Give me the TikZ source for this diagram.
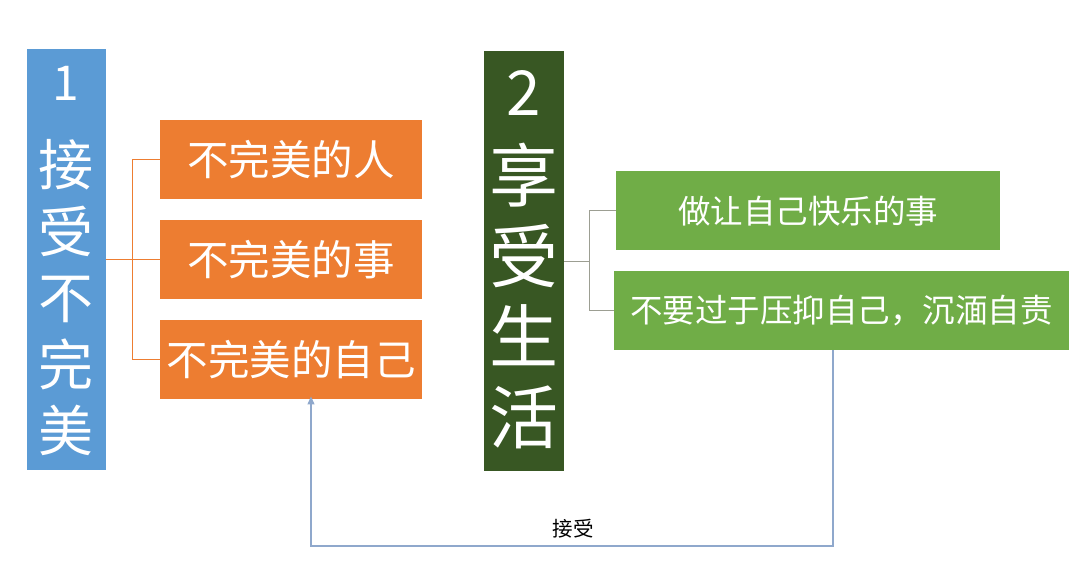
\documentclass[tikz,border=0pt]{standalone}
\usepackage{fontspec}
\setmainfont{Noto Sans CJK SC}
\usetikzlibrary{arrows.meta}
\definecolor{cblue}{HTML}{5B9BD5}
\definecolor{corange}{HTML}{ED7D31}
\definecolor{cdark}{HTML}{385723}
\definecolor{cgreen}{HTML}{70AD47}
\definecolor{cgray}{HTML}{9C9E92}
\definecolor{carrow}{HTML}{8FA8CC}
\tikzset{
  box/.style={rectangle, inner sep=0pt, anchor=north west, text=white},
  col/.style={text=white, align=center, inner sep=0pt},
  obox/.style={box, fill=corange, minimum width=262pt, minimum height=79pt, font=\fontsize{41.5}{48}\selectfont},
  gbox/.style={box, fill=cgreen, minimum height=79pt, font=\fontsize{32.5}{38}\selectfont},
  oline/.style={draw=corange, line width=1pt},
  gline/.style={draw=cgray, line width=1.1pt},
  aline/.style={draw=carrow, line width=1.1pt}
}
\begin{document}
\begin{tikzpicture}[x=1pt,y=-1pt]
\useasboundingbox (0,0) rectangle (1080,587);
% left column
\node[box, fill=cblue, minimum width=79pt, minimum height=421pt] (b1) at (27,49) {};
\node[col, font=\fontsize{48}{50}\selectfont] (n1) at (66,83) {1};
\node[col, font=\fontsize{55}{66.5}\selectfont] (t1) at (66,298) {接\\受\\不\\完\\美};
% orange boxes
\node[obox] (o1) at (160,120) {不完美的人};
\node[obox] (o2) at (160,220) {不完美的事};
\node[obox] (o3) at (160,320) {不完美的自己};
\draw[oline] (b1.east) -- ++(26,0) coordinate (j1);
\draw[oline] (o1.west) -| (j1) |- (o3.west);
\draw[oline] (j1) -- (o2.west);
% right column
\node[box, fill=cdark, minimum width=80pt, minimum height=420pt] (b2) at (484,51) {};
\node[col, font=\fontsize{62}{64}\selectfont] (n2) at (524,93) {2};
\node[col, font=\fontsize{69}{80.7}\selectfont] (t2) at (524,296) {享\\受\\生\\活};
% green boxes
\node[gbox, minimum width=384pt] (g1) at (616,171) {做让自己快乐的事};
\node[gbox, minimum width=455pt] (g2) at (614,271) {不要过于压抑自己，沉湎自责};
\draw[gline] (b2.east) -- ++(25,0) coordinate (j2);
\draw[gline] (g1.west) -| (j2) |- (g2.west);
% accept arrow
\coordinate (a1) at (833,546);
\coordinate (a2) at (311,546);
\draw[aline, -{Triangle[length=8pt,width=7pt]}] (g2.south -| a1) -- (a1) -- (a2) -- ([yshift=3pt]o3.south -| a2);
\node[font=\fontsize{20.5}{24}\selectfont, text=black, inner sep=1pt] (lbl) at (573,529) {接受};
\end{tikzpicture}
\end{document}
